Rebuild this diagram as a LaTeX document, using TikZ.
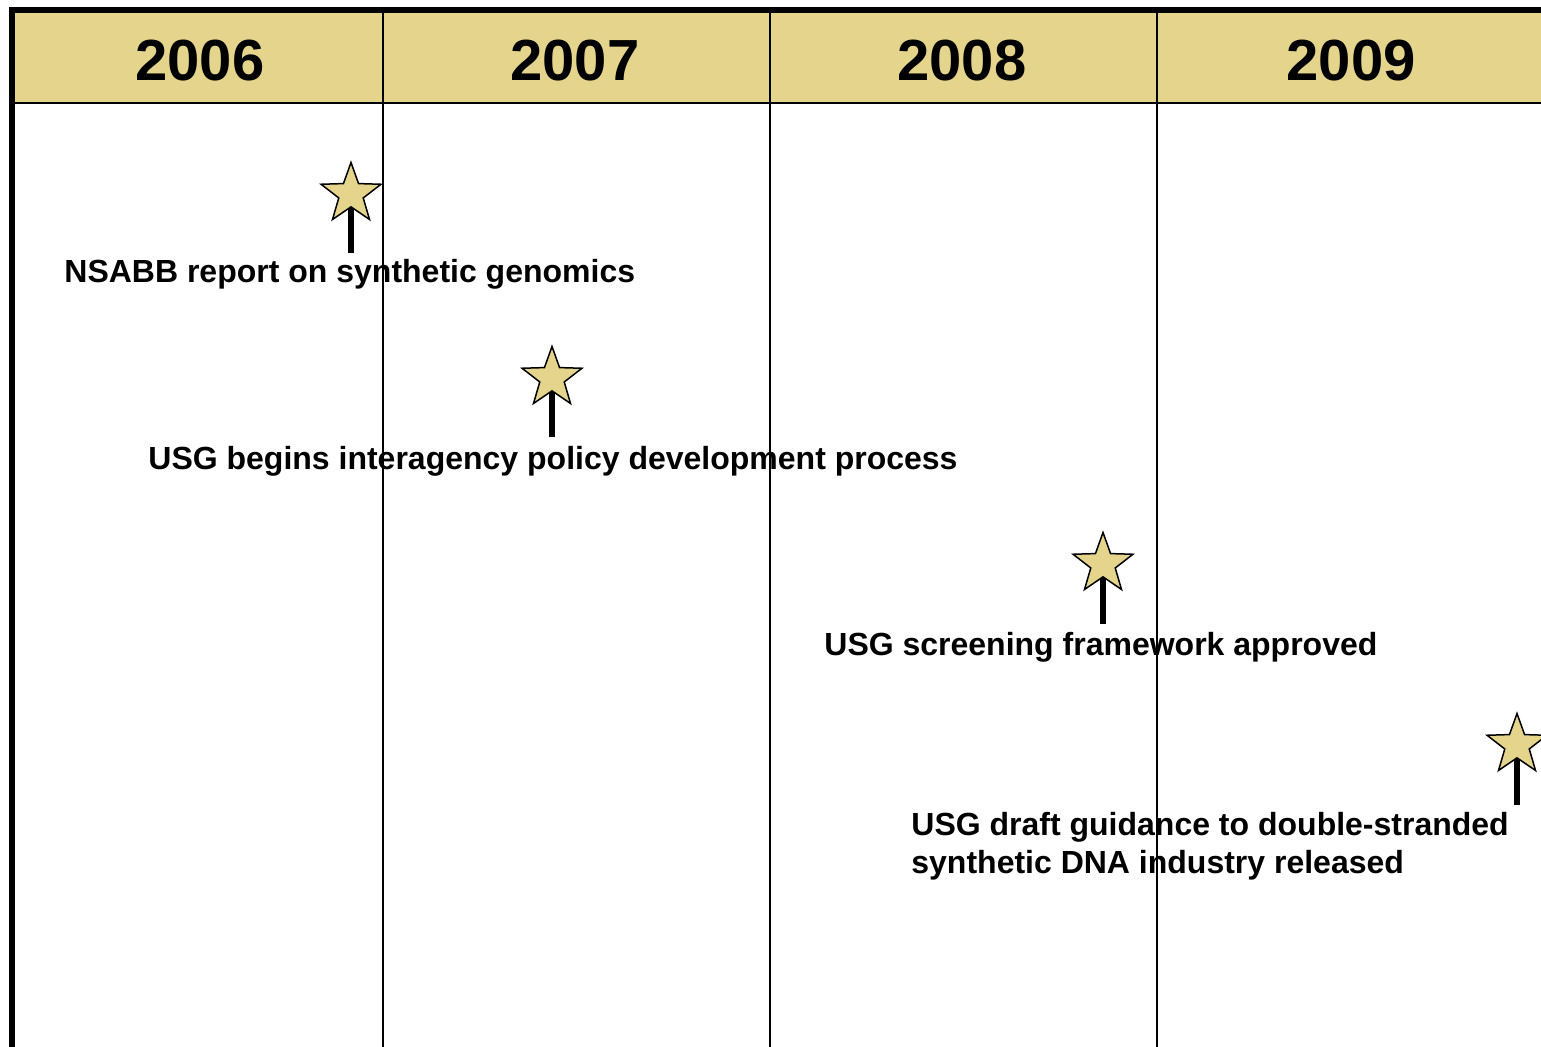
\documentclass[tikz,border=0pt]{standalone}
\usepackage{fontspec}
\setmainfont{Liberation Sans}
\usetikzlibrary{shapes.geometric}
\definecolor{khaki}{RGB}{229,213,140}
\begin{document}
\begin{tikzpicture}[x=0.5pt,y=-0.5pt,
  yearlabel/.style={font=\fontsize{29}{34}\selectfont\bfseries, inner sep=0pt},
  eventlabel/.style={font=\fontsize{16}{19}\selectfont\bfseries, inner sep=0pt, anchor=base west, align=left},
  eventstar/.style={star, star points=5, star point ratio=2.45, minimum size=31.5pt, inner sep=0pt,
    fill=khaki, draw=black, line width=0.75pt, line join=miter},
  stick/.style={line width=3pt},
  gridline/.style={line width=1pt},
  frame/.style={line width=2.6pt}]
  \useasboundingbox (0,0) rectangle (1541,1047);
  \clip (0,0) rectangle (1541,1047);

  % header band
  \fill[khaki] (12,10) rectangle (1545,103);
  \draw[line width=1.2pt] (12,103) -- (1545,103);

  % column separators
  \foreach \x in {383,770,1157} \draw[gridline] (\x,7) -- (\x,1047);

  % outer frame
  \draw[frame] (12,1050) -- (12,10) -- (1545,10);

  % years
  \node[yearlabel] (y2006) at (200,61) {2006};
  \node[yearlabel] (y2007) at (575,61) {2007};
  \node[yearlabel] (y2008) at (962,61) {2008};
  \node[yearlabel] (y2009) at (1351,61) {2009};

  % events: stick, then star on top
  \coordinate (c1) at (351,194);   \coordinate (e1) at (351,253);
  \coordinate (c2) at (552,378);   \coordinate (e2) at (552,437);
  \coordinate (c3) at (1103,564);  \coordinate (e3) at (1103,624);
  \coordinate (c4) at (1517,745);  \coordinate (e4) at (1517,805);

  \draw[stick] (c1) -- (e1);
  \draw[stick] (c2) -- (e2);
  \draw[stick] (c3) -- (e3);
  \draw[stick] (c4) -- (e4);

  \node[eventstar] (s1) at (c1) {};
  \node[eventstar] (s2) at (c2) {};
  \node[eventstar] (s3) at (c3) {};
  \node[eventstar] (s4) at (c4) {};

  \node[eventlabel] (t1) at (64,283) {NSABB report on synthetic genomics};
  \node[eventlabel] (t2) at (148,470) {USG begins interagency policy development process};
  \node[eventlabel] (t3) at (824,655) {USG screening framework approved};
  \node[eventlabel] (t4) at (911,873) {USG draft guidance to double-stranded\\synthetic DNA industry released};
\end{tikzpicture}
\end{document}
